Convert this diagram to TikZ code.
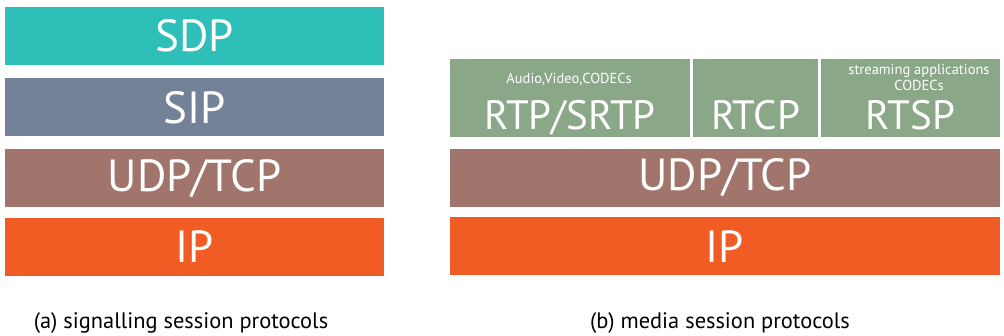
\documentclass[tikz,border=0pt]{standalone}
\usepackage{fontspec}
\setmainfont{PT Sans}
\usepackage{tikz}

\definecolor{sdpcol}{HTML}{2EBFB8}
\definecolor{sipcol}{HTML}{738298}
\definecolor{udpcol}{HTML}{A1746C}
\definecolor{ipcol}{HTML}{F15B24}
\definecolor{rtpcol}{HTML}{8AA888}

\begin{document}
\begin{tikzpicture}[x=1pt, y=-1pt,
  every node/.style={inner sep=0pt, outer sep=0pt, text=white},
  layer/.style={minimum height=58pt, font=\fontsize{45}{45}\selectfont},
  biglabel/.style={anchor=base, font=\fontsize{41}{41}\selectfont},
  smalllabel/.style={anchor=base, font=\fontsize{14.5}{15}\selectfont},
  caption/.style={anchor=base, text=black, font=\fontsize{22.4}{23}\selectfont}]
\useasboundingbox[fill=white] (0,0) rectangle (1004,336);

% (a) signalling
\node[layer, fill=sdpcol, minimum width=379pt] (sdp) at (194.5,36) {SDP};
\node[layer, fill=sipcol, minimum width=379pt] (sip) at (194.5,107.5) {SIP};
\node[layer, fill=udpcol, minimum width=379pt] (udpa) at (194.5,178.5) {UDP/TCP};
\node[layer, fill=ipcol, minimum width=379pt] (ipa) at (194.5,247) {IP};

% (b) media
\node[fill=rtpcol, minimum width=240pt, minimum height=78pt] (rtp) at (570,98) {};
\node[fill=rtpcol, minimum width=125pt, minimum height=78pt] (rtcp) at (755.5,98) {};
\node[fill=rtpcol, minimum width=179pt, minimum height=78pt] (rtsp) at (910.5,98) {};
\node[biglabel] (rtpl) at (570,130) {RTP/SRTP};
\node[biglabel] (rtcpl) at (755.5,130) {RTCP};
\node[biglabel] (rtspl) at (910.5,130) {RTSP};
\node[smalllabel] (rtpnote) at (569,84) {Audio,Video,CODECs};
\node[smalllabel] (rtspnote) at (919,75) {streaming applications};
\node[smalllabel] (rtspnote2) at (919,91) {CODECs};
\node[layer, fill=udpcol, minimum width=550pt] (udpb) at (725,178) {UDP/TCP};
\node[layer, fill=ipcol, minimum width=550pt] (ipb) at (725,246.5) {IP};

\node[caption] (capa) at (181,329) {(a) signalling session protocols};
\node[caption] (capb) at (720,329) {(b) media session protocols};
\end{tikzpicture}
\end{document}
